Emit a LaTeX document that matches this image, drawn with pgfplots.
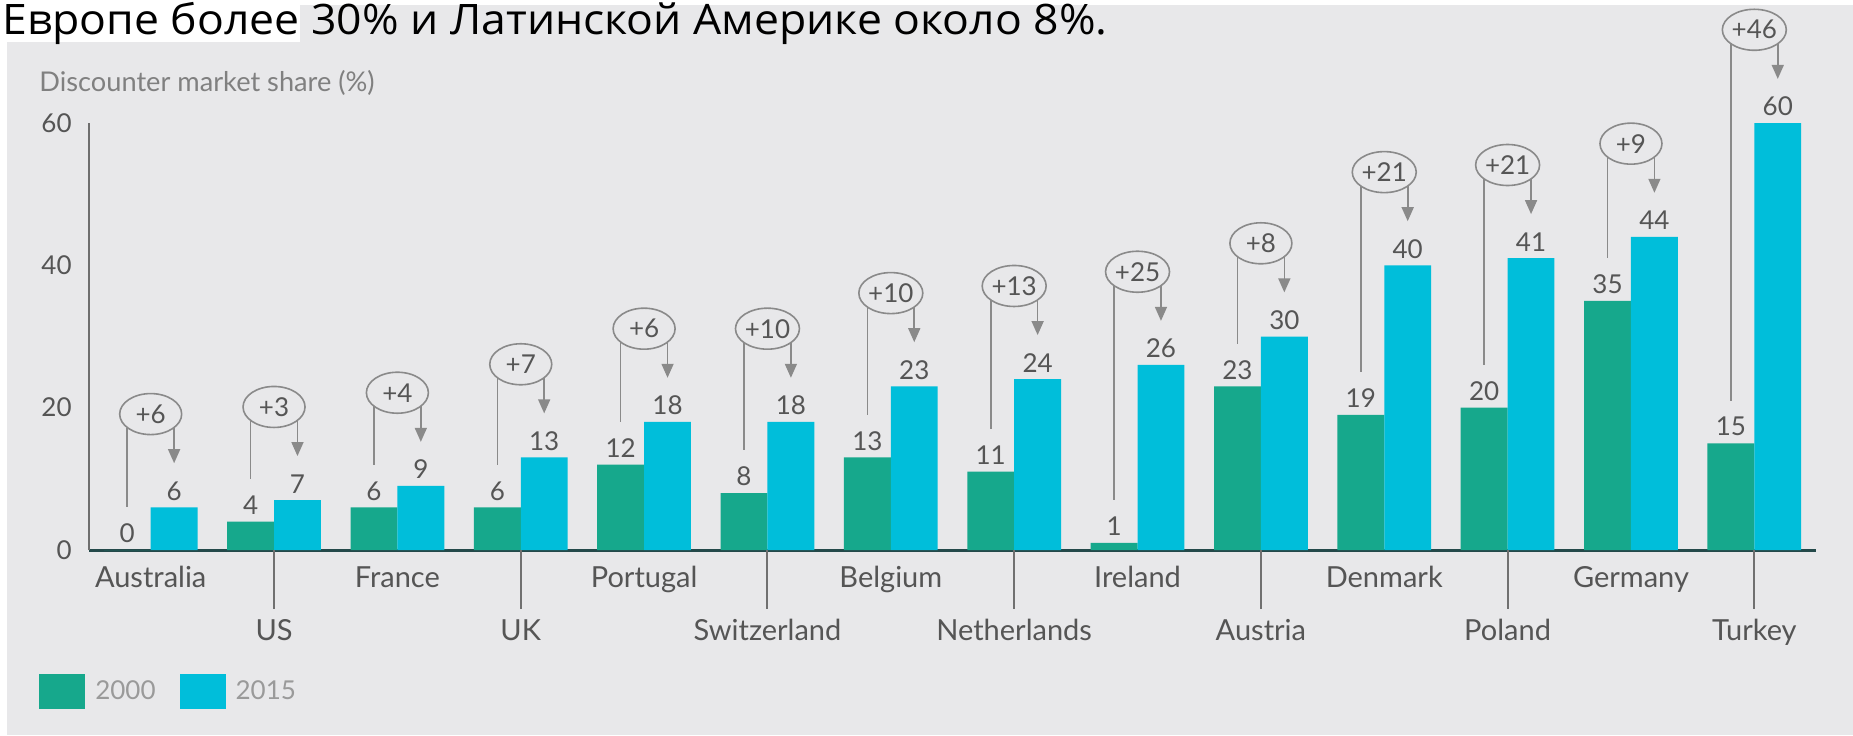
\documentclass[border=0pt]{standalone}
\usepackage{fontspec}
\setmainfont{Lato}
\newfontfamily\topfont{Open Sans}[FakeStretch=1.06]
\usepackage{pgfplots}
\pgfplotsset{compat=1.18}
\usepackage{pgfplotstable}
\usetikzlibrary{shapes.geometric, arrows.meta}

\definecolor{cgreen}{HTML}{16A88C}
\definecolor{ccyan}{HTML}{00BEDA}
\definecolor{bg}{HTML}{E8E8EA}
\definecolor{txt}{HTML}{555555}
\definecolor{ln}{HTML}{8A8A8A}
\definecolor{ln2}{HTML}{707070}
\definecolor{legtxt}{HTML}{9A9A9A}
\definecolor{xax}{HTML}{24494A}
\definecolor{yax}{HTML}{6E6E6E}

\pgfplotstableread{
x g c d
0 0 6 6
1 4 7 3
2 6 9 4
3 6 13 7
4 12 18 6
5 8 18 10
6 13 23 10
7 11 24 13
8 1 26 25
9 23 30 8
10 19 40 21
11 20 41 21
12 35 44 9
13 15 60 46
}\datatable

\pgfplotstableread{
x y
1 0
3 0
5 0
7 0
9 0
11 0
13 0
}\oddticks

\begin{document}
\begin{tikzpicture}
\useasboundingbox (0pt,0pt) rectangle (926.5pt,367.5pt);
\fill[white] (0pt,0pt) rectangle (926.5pt,367.5pt);
\fill[bg] (3.5pt,0pt) rectangle (926.5pt,365pt);
\fill[white] (0pt,346.5pt) rectangle (150pt,367.5pt);
\node[anchor=base west, inner sep=0pt, font=\topfont\fontsize{21}{24}\selectfont] at (1pt,350pt) {Европе более 30\% и Латинской Америке около 8\%.};
\node[anchor=west, inner sep=0pt, text=gray, font=\fontsize{13.6}{15}\selectfont] at (19.5pt,326pt) {Discounter market share (\%)};
\begin{axis}[
  at={(44.5pt,92.5pt)}, anchor=south west,
  scale only axis, width=863.5pt, height=213.5pt,
  xmin=-0.5, xmax=13.5, ymin=0, ymax=60,
  enlargelimits=false,
  clip=false,
  axis x line=bottom, axis y line=left,
  x axis line style={-, draw=xax, line width=1.5pt},
  y axis line style={-, draw=yax, line width=1pt},
  major tick length=0pt, tick style={draw=none},
  /pgf/number format/assume math mode=true,
  xtick={0,...,13},
  xticklabels={Australia,\raisebox{-26.5pt}{US},France,\raisebox{-26.5pt}{UK},Portugal,\raisebox{-26.5pt}{Switzerland},Belgium,\raisebox{-26.5pt}{Netherlands},Ireland,\raisebox{-26.5pt}{Austria},Denmark,\raisebox{-26.5pt}{Poland},Germany,\raisebox{-26.5pt}{Turkey}},
  xticklabel style={anchor=north, inner sep=0pt, text height=10pt, text depth=0pt, yshift=-8.5pt, font=\fontsize{14.5}{16}\selectfont, text=txt},
  ytick={0,20,40,60},
  yticklabels={0,20,40,60},
  yticklabel style={anchor=east, inner sep=0pt, xshift=-8.5pt, font=\fontsize{13}{15}\selectfont, text=txt},
  legend style={at={(axis description cs:-0.029,-0.331)}, anchor=west, draw=none, fill=none, inner sep=0pt, legend columns=-1, font=\fontsize{13}{15}\selectfont, nodes={inner sep=0pt, text=legtxt}, /tikz/every odd column/.append style={column sep=5pt}, /tikz/every even column/.append style={column sep=12pt}},
  legend cell align=left,
  legend image code/.code={\fill[#1, draw=none] (0pt,-8.75pt) rectangle (23pt,8.75pt);},
]
\addplot[ybar, bar width=0.38, bar shift=0pt, fill=cgreen, draw=none,
  nodes near coords, every node near coord/.append style={font=\fontsize{13}{15}\selectfont, text=txt}]
  table[x expr=\thisrow{x}-0.19, y=g] {\datatable};
\addlegendentry{2000}
\addplot[ybar, bar width=0.38, bar shift=0pt, fill=ccyan, draw=none,
  nodes near coords, every node near coord/.append style={font=\fontsize{13}{15}\selectfont, text=txt}]
  table[x expr=\thisrow{x}+0.19, y=c] {\datatable};
\addlegendentry{2015}
% annotation arrows to 2015 value
\addplot[forget plot, quiver={u=0, v=-5}, -{Triangle[width=6pt,length=7pt]}, draw=ln, line width=0.8pt]
  table[x expr=\thisrow{x}+0.19, y expr=\thisrow{c}+11.2] {\datatable};
% annotation lines from 2000 value
\addplot[forget plot, quiver={u=0, v=\thisrow{g}-\thisrow{c}-5.2}, draw=ln, line width=0.8pt]
  table[x expr=\thisrow{x}-0.19, y expr=\thisrow{c}+11.2] {\datatable};
% ellipses with the difference
\addplot[forget plot, only marks, mark=*, mark size=0pt, mark options={draw=none},
  point meta=explicit symbolic, nodes near coords={+\pgfplotspointmeta},
  every node near coord/.style={ellipse, draw=ln, line width=0.8pt, minimum width=31pt, minimum height=20.5pt, inner sep=0pt, anchor=center, font=\fontsize{13}{15}\selectfont, text=txt}]
  table[x=x, y expr=\thisrow{c}+13.1, meta=d] {\datatable};
% tick lines below the lower row of labels
\addplot[forget plot, quiver={u=0, v=-8.3}, draw=ln2, line width=1pt]
  table[x=x, y=y] {\oddticks};
\end{axis}
\end{tikzpicture}
\end{document}
